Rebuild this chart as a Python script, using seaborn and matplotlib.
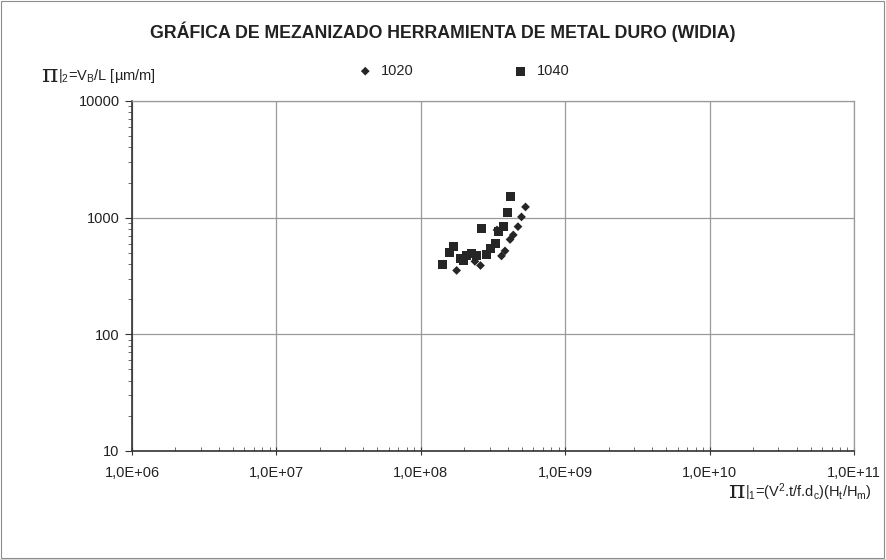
import numpy as np
import pandas as pd
import matplotlib
matplotlib.use("Agg")
import matplotlib.pyplot as plt
import matplotlib.ticker as mticker
from matplotlib.patches import Rectangle
import seaborn as sns

# Datos (π1, π2)
pi1_1020 = [5.31e8, 4.98e8, 4.71e8, 4.37e8, 4.15e8, 3.83e8, 3.62e8, 3.37e8, 2.59e8, 2.37e8, 1.77e8]
pi2_1020 = [1236, 1015, 838, 711, 650, 519, 470, 785, 389, 422, 353]

pi1_1040 = [4.15e8, 3.97e8, 2.64e8, 3.72e8, 3.44e8, 3.27e8, 3.06e8, 2.83e8,
            1.68e8, 1.57e8, 1.42e8, 1.87e8, 2.06e8, 2.26e8, 2.45e8, 1.96e8]
pi2_1040 = [1514, 1112, 800, 838, 759, 604, 547, 479,
            565, 501, 399, 449, 470, 489, 470, 426]

x_ticks = [1e6, 1e7, 1e8, 1e9, 1e10, 1e11]
x_labels = ["1,0E+06", "1,0E+07", "1,0E+08", "1,0E+09", "1,0E+10", "1,0E+11"]
y_ticks = [10, 100, 1000, 10000]
y_labels = ["10", "100", "1000", "10000"]

df = pd.concat([
    pd.DataFrame({"pi1": pi1_1020, "pi2": pi2_1020, "serie": "1020"}),
    pd.DataFrame({"pi1": pi1_1040, "pi2": pi2_1040, "serie": "1040"}),
])

sns.set_theme(style="white")
plt.rcParams["font.family"] = ["Liberation Sans", "DejaVu Sans"]
plt.rcParams["mathtext.fontset"] = "custom"
plt.rcParams["mathtext.rm"] = "Liberation Sans"
plt.rcParams["mathtext.it"] = "Liberation Sans"

W, H = 886, 559
fig = plt.figure(figsize=(W / 100, H / 100), dpi=100)
ax = fig.add_axes([132 / W, 1 - 451 / H, 722 / W, 350 / H])

sns.scatterplot(data=df[df.serie == "1020"], x="pi1", y="pi2", marker="D", s=20,
                color="#262626", edgecolor="none", label="1020", ax=ax, zorder=3)
sns.scatterplot(data=df[df.serie == "1040"], x="pi1", y="pi2", marker="s", s=42,
                color="#262626", edgecolor="none", label="1040", ax=ax, zorder=3)

ax.set_xscale("log")
ax.set_yscale("log")
ax.set_xlim(1e6, 1e11)
ax.set_ylim(10, 10000)
ax.set_xticks(x_ticks)
ax.set_xticklabels(x_labels)
ax.set_yticks(y_ticks)
ax.set_yticklabels(y_labels)
ax.xaxis.set_minor_locator(mticker.LogLocator(base=10, subs=np.arange(2, 10)))
ax.yaxis.set_minor_locator(mticker.LogLocator(base=10, subs=np.arange(2, 10)))
ax.xaxis.set_minor_formatter(mticker.NullFormatter())
ax.yaxis.set_minor_formatter(mticker.NullFormatter())
ax.tick_params(axis="x", which="major", direction="inout", length=6, width=0.8,
               colors="#333333", labelsize=10.5, labelcolor="#222222", pad=8)
ax.tick_params(axis="x", which="minor", direction="in", length=3, width=0.6, colors="#555555")
ax.tick_params(axis="y", which="major", direction="out", length=5, width=0.8,
               colors="#333333", labelsize=10.5, labelcolor="#222222", pad=4)
ax.tick_params(axis="y", which="minor", direction="out", length=3, width=0.6, colors="#555555")
ax.tick_params(bottom=True, left=True, which="both")

ax.grid(True, which="major", color="#9a9a9a", linewidth=0.9)
for side in ["top", "right"]:
    ax.spines[side].set_color("#9a9a9a")
    ax.spines[side].set_linewidth(0.9)
for side in ["left", "bottom"]:
    ax.spines[side].set_color("#333333")
    ax.spines[side].set_linewidth(1.2)
ax.set_xlabel("")
ax.set_ylabel("")

ax.legend(loc="center", bbox_to_anchor=(460 / W, 1 - 71 / H),
          bbox_transform=fig.transFigure, ncol=2, frameon=False,
          columnspacing=6.3, handletextpad=0.1, fontsize=10.5, markerscale=1.0,
          labelcolor="#222222")

fig.text(443 / W, 1 - 32 / H,
         "GRÁFICA DE MEZANIZADO HERRAMIENTA DE METAL DURO (WIDIA)",
         ha="center", va="center", fontsize=12.8, fontweight="bold", color="#222222")

renderer = fig.canvas.get_renderer()

# etiqueta eje y
fig.text(58 / W, 1 - 76 / H, r"|$_{2}$=V$_{\mathrm{B}}$/L [µm/m]",
         ha="left", va="center", fontsize=10.5, color="#222222")
fig.text(57 / W, 1 - 76 / H, "π", ha="right", va="center", fontsize=18,
         family=["DejaVu Serif"], color="#222222")

# etiqueta eje x
xl = fig.text(872 / W, 1 - 492 / H,
              r"|$_{1}$=(V$^{2}$.t/f.d$_{\mathrm{c}}$)(H$_{\mathrm{t}}$/H$_{\mathrm{m}}$)",
              ha="right", va="center", fontsize=10.5, color="#222222")
x0 = xl.get_window_extent(renderer=renderer).x0
fig.text((x0 - 1) / W, 1 - 492 / H, "π", ha="right", va="center", fontsize=18,
         family=["DejaVu Serif"], color="#222222")

fig.patches.append(Rectangle((0.001, 0.001), 0.997, 0.997, transform=fig.transFigure,
                             fill=False, edgecolor="#8c8c8c", linewidth=0.8))

fig.savefig("out.png", dpi=100, facecolor="white")
